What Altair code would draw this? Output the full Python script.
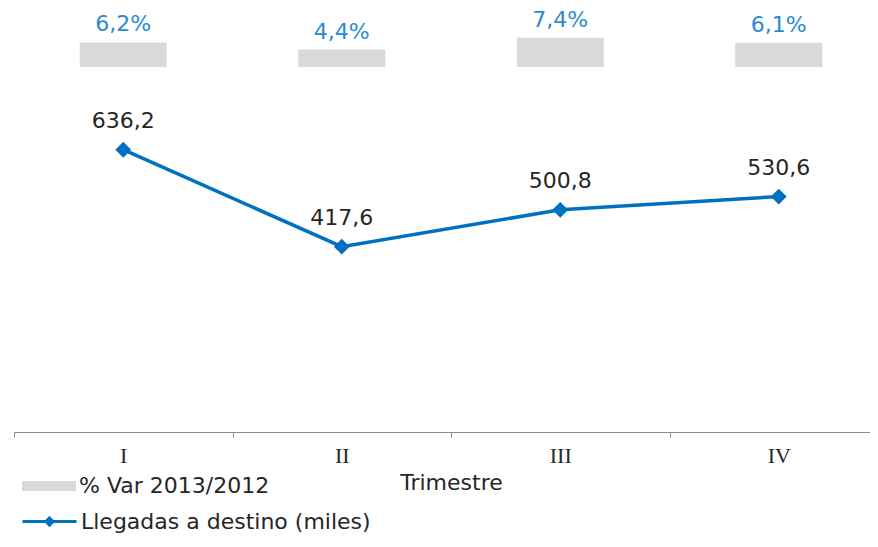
import altair as alt
import pandas as pd

# ---- data ----
trimestres = ["I", "II", "III", "IV"]
llegadas = [636.2, 417.6, 500.8, 530.6]
var_pct = [6.2, 4.4, 7.4, 6.1]

serie_var = "% Var 2013/2012"
serie_lleg = "Llegadas a destino (miles)"

df = pd.DataFrame({
    "trimestre": trimestres,
    "llegadas": llegadas,
    "var": var_pct,
    "s_var": [serie_var] * len(trimestres),
    "s_lleg": [serie_lleg] * len(trimestres),
})

BLUE = "#0070C0"
LBLUE = "#2B8AD3"
GRAY = "#D9D9D9"
TXT = "#262626"
FONT = "DejaVu Sans"

x_enc = alt.X(
    "trimestre:N",
    sort=trimestres,
    scale=alt.Scale(range=[0, 874], paddingInner=0, paddingOuter=0),
    axis=alt.Axis(
        title="Trimestre",
        labelAngle=0,
        tickBand="extent",
        tickSize=5,
        tickColor="#8C8C8C",
        domainColor="#8C8C8C",
        labelFont="Liberation Serif",
        labelFontSize=22,
        labelColor=TXT,
        labelPadding=8,
        titleFont=FONT,
        titleFontSize=22,
        titleFontWeight="normal",
        titleColor=TXT,
        titlePadding=6,
        grid=False,
    ),
)

base = alt.Chart(df)

# ---- bars (secondary scale) ----
y_bar = alt.Y("var:Q", scale=alt.Scale(domain=[-92.4, 13.9]), axis=None)

bars = base.mark_bar(size=87).encode(
    x=x_enc,
    y=y_bar,
    fill=alt.Fill(
        "s_var:N",
        scale=alt.Scale(range=[GRAY]),
        legend=alt.Legend(
            title=None,
            orient="none",
            legendX=8,
            legendY=447,
            symbolType="M-1,-0.185L1,-0.185L1,0.185L-1,0.185Z",
            symbolSize=2916,
            symbolStrokeWidth=0,
            labelFont=FONT,
            labelFontSize=22,
            labelColor=TXT,
            labelOffset=3,
            labelLimit=500,
            padding=0,
        ),
    ),
)

bar_labels = base.transform_calculate(
    lab="replace(format(datum.var, '.1f'), '.', ',') + '%'"
).mark_text(
    baseline="alphabetic", dy=-11, font=FONT, fontSize=22, color=LBLUE
).encode(x=x_enc, y=y_bar, text="lab:N")

right = alt.layer(bars, bar_labels)

# ---- line (primary scale) ----
y_line = alt.Y("llegadas:Q", scale=alt.Scale(domain=[0, 946.6]), axis=None)

line = base.mark_line(strokeWidth=3.5).encode(
    x=x_enc,
    y=y_line,
    stroke=alt.Stroke(
        "s_lleg:N",
        scale=alt.Scale(range=[BLUE]),
        legend=alt.Legend(
            title=None,
            orient="none",
            legendX=7,
            legendY=481,
            symbolType="M-1,0L1,0M0,-0.13L0.13,0L0,0.13L-0.13,0Z",
            symbolSize=2916,
            symbolStrokeWidth=3,
            symbolFillColor=BLUE,
            labelFont=FONT,
            labelFontSize=22,
            labelColor=TXT,
            labelOffset=3,
            labelLimit=500,
            padding=0,
        ),
    ),
)

points = base.mark_point(shape="diamond", filled=True, size=250, opacity=1, color=BLUE).encode(
    x=x_enc, y=y_line
)

pt_labels = base.transform_calculate(
    lab="replace(format(datum.llegadas, '.1f'), '.', ',')"
).mark_text(
    baseline="alphabetic", dy=-22, font=FONT, fontSize=22, color=TXT
).encode(x=x_enc, y=y_line, text="lab:N")

left = alt.layer(line, points, pt_labels)

chart = (
    alt.layer(right, left)
    .resolve_scale(y="independent")
    .properties(
        width=856,
        height=420,
        autosize=alt.AutoSizeParams(type="none"),
        padding={"left": 6, "top": 4, "right": 0, "bottom": 103},
        background="white",
    )
    .configure_view(strokeWidth=0)
)

chart.save("out.html", embed_options={"renderer": "svg", "actions": False})
